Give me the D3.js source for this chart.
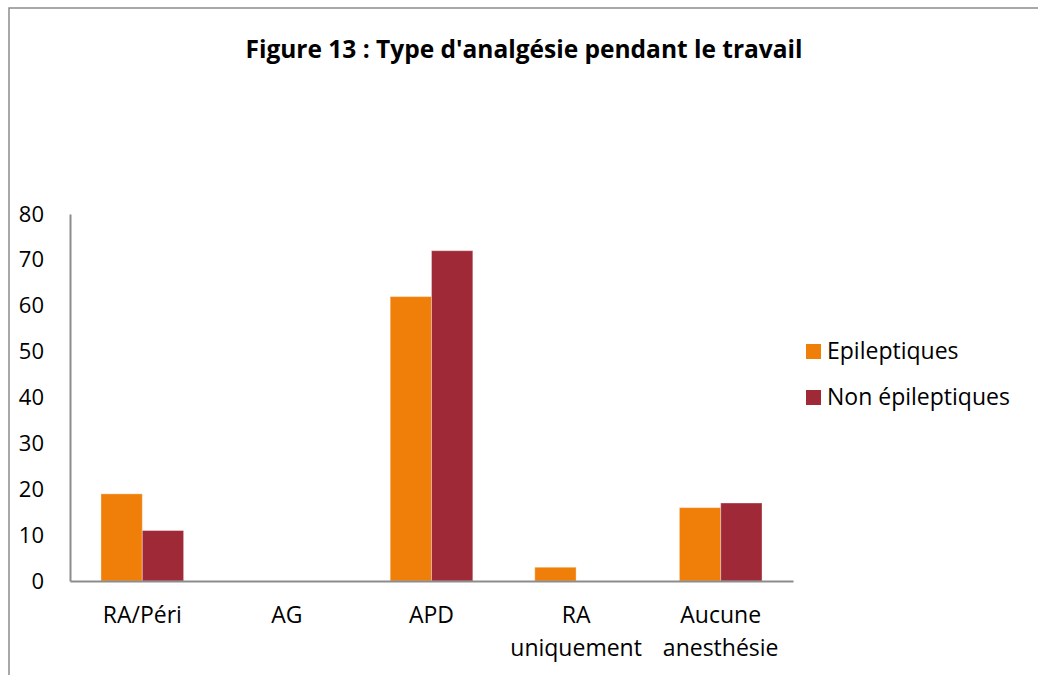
<!DOCTYPE html>
<html>
<head>
<meta charset="utf-8">
<script src="https://cdn.jsdelivr.net/npm/d3@7"></script>
<style>
  body { margin: 0; background: #fff; }
  svg { display: block; font-family: "Open Sans", "Noto Sans", sans-serif; }
</style>
</head>
<body>
<svg id="chart" width="1038" height="675"></svg>
<script>
// chart data
var categories = [["RA/Péri"], ["AG"], ["APD"], ["RA", "uniquement"], ["Aucune", "anesthésie"]];
var seriesNames = ["Epileptiques", "Non épileptiques"];
var epileptiques = [19, 0, 62, 3, 16];
var nonEpileptiques = [11, 0, 72, 0, 17];
var yTicks = [0, 10, 20, 30, 40, 50, 60, 70, 80];
var colors = ["#F07F09", "#9F2936"];

var fontFamily = '"Open Sans", "Noto Sans", sans-serif';
var svg = d3.select("#chart");

// outer frame of the chart area
svg.append("path")
  .attr("d", "M9,675 L9,8 L1038,8")
  .attr("fill", "none")
  .attr("stroke", "#8c8c8c")
  .attr("stroke-width", 1.5);

// title
svg.append("text")
  .attr("x", 524)
  .attr("y", 58)
  .attr("text-anchor", "middle")
  .style("font-size", "24.5px")
  .style("font-weight", "bold")
  .text("Figure 13 : Type d'analgésie pendant le travail");

var plotLeft = 70, plotRight = 793, plotTop = 214, plotBottom = 581;

// excel style: gap width 150% of a bar
var x = d3.scaleBand()
  .domain(d3.range(categories.length))
  .range([plotLeft, plotRight])
  .paddingInner(0.4286)
  .paddingOuter(0.2143);

var y = d3.scaleLinear().domain([0, 80]).range([plotBottom, plotTop]);

var xs = d3.scaleBand()
  .domain([0, 1])
  .range([0, x.bandwidth()]);

// bars
var groups = svg.append("g").selectAll("g")
  .data(categories.map(function(c, i){ return [epileptiques[i], nonEpileptiques[i]]; }))
  .enter().append("g")
  .attr("transform", function(d, i){ return "translate(" + x(i) + ",0)"; });

groups.selectAll("rect")
  .data(function(d){ return d; })
  .enter().append("rect")
  .filter(function(d){ return d > 0; })
  .attr("x", function(d, j){ return xs(j); })
  .attr("y", function(d){ return y(d); })
  .attr("width", xs.bandwidth())
  .attr("height", function(d){ return y(0) - y(d); })
  .attr("fill", function(d, j){ return colors[j]; })
  .attr("stroke", "#fff")
  .attr("stroke-opacity", 0.35)
  .attr("stroke-width", 1);

// y axis
var yAxis = svg.append("g")
  .attr("transform", "translate(" + plotLeft + ",0)")
  .call(d3.axisLeft(y).tickValues(yTicks).tickSize(0).tickPadding(26));
yAxis.attr("font-family", fontFamily).attr("font-size", 22);
yAxis.select(".domain").attr("stroke", "#8c8c8c").attr("stroke-width", 2);
yAxis.selectAll("text").attr("fill", "#000");

// x axis
var xAxis = svg.append("g")
  .attr("transform", "translate(0," + plotBottom + ")")
  .call(d3.axisBottom(x).tickSize(0).tickFormat(""));
xAxis.select(".domain").attr("stroke", "#8c8c8c").attr("stroke-width", 2);

var xLabels = svg.append("g").selectAll("text")
  .data(categories)
  .enter().append("text")
  .attr("x", function(d, i){ return x(i) + x.bandwidth() / 2; })
  .attr("y", 623)
  .attr("text-anchor", "middle")
  .style("font-size", "23px");
xLabels.selectAll("tspan")
  .data(function(d){ return d; })
  .enter().append("tspan")
  .attr("x", function(){ return d3.select(this.parentNode).attr("x"); })
  .attr("dy", function(d, j){ return j === 0 ? 0 : 33; })
  .text(function(d){ return d; });

// legend
var legend = svg.append("g").selectAll("g")
  .data(seriesNames)
  .enter().append("g")
  .attr("transform", function(d, i){ return "translate(806," + (344 + i * 46) + ")"; });
legend.append("rect")
  .attr("width", 15).attr("height", 15)
  .attr("fill", function(d, i){ return colors[i]; });
legend.append("text")
  .attr("x", 21).attr("y", 15)
  .style("font-size", "23px")
  .text(function(d){ return d; });
</script>
</body>
</html>
